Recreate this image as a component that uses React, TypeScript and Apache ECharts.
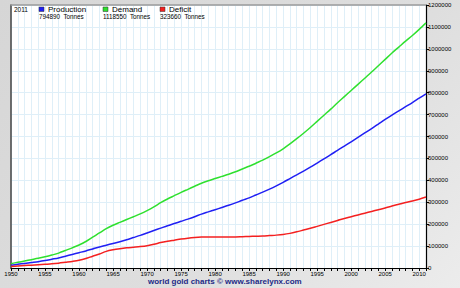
import React, { useEffect, useRef } from "react";
import * as echarts from "echarts";

const years: number[] = [];
for (let y = 1950; y <= 2011; y++) years.push(y);

const production = [
  13000, 17000, 21000, 25000, 29000, 34000, 40000, 46000, 54000, 62000,
  70000, 78000, 87000, 96000, 104000, 112000, 120000, 129000, 139000, 149000,
  160000, 171000, 182000, 193000, 203000, 213000, 223000, 234000, 246000, 256000,
  266000, 276000, 286000, 297000, 309000, 320000, 333000, 346000, 360000, 375000,
  391000, 408000, 425000, 442000, 460000, 479000, 498000, 517000, 537000, 556000,
  576000, 596000, 616000, 636000, 657000, 678000, 698000, 717000, 736000, 755000,
  775000, 794890,
];

const demand = [
  20000, 26000, 32000, 38000, 44000, 51000, 59000, 68000, 80000, 92000,
  105000, 121000, 141000, 160000, 180000, 195000, 208000, 221000, 234000, 247000,
  262000, 279000, 298000, 315000, 330000, 345000, 359000, 373000, 387000, 398000,
  408000, 418000, 428000, 439000, 452000, 464000, 478000, 492000, 508000, 525000,
  544000, 566000, 590000, 615000, 641000, 669000, 697000, 725000, 754000, 782000,
  810000, 838000, 866000, 894000, 923000, 952000, 981000, 1008000, 1035000, 1061000,
  1089000, 1118550,
];

const deficit = [
  7000, 9000, 11000, 13000, 15000, 17000, 19000, 22000, 26000, 30000,
  35000, 43000, 54000, 64000, 76000, 83000, 88000, 92000, 95000, 98000,
  102000, 108000, 116000, 122000, 127000, 132000, 136000, 139000, 141000, 142000,
  142000, 142000, 142000, 142000, 143000, 144000, 145000, 146000, 148000, 150000,
  153000, 158000, 165000, 173000, 181000, 190000, 199000, 208000, 217000, 226000,
  234000, 242000, 250000, 258000, 266000, 274000, 283000, 291000, 299000, 306000,
  314000, 323660,
];

const seriesNames = ["Production", "Demand", "Deficit"];
const seriesColors = ["#2020f4", "#2fe02f", "#f42020"];
const legendYear = "2011";
const unit = "Tonnes";
const credit = "world gold charts \u00a9 www.sharelynx.com";

const FONT = "'Liberation Sans', Arial, sans-serif";

export default function App() {
  const ref = useRef<HTMLDivElement>(null);
  useEffect(() => {
    if (!ref.current) return;
    const chart = echarts.init(ref.current, undefined, { renderer: "svg" });
    const all = [production, demand, deficit];
    const gridColor = "#dfeff8";
    const legendX = [39, 103, 160];
    const graphic: any[] = [
      {
        type: "text",
        left: 14,
        top: 5.5,
        z: 100,
        style: { text: legendYear, fontSize: 6.5, fontFamily: FONT, fill: "#000" },
      },
    ];
    seriesNames.forEach((n, i) => {
      const last = all[i][all[i].length - 1];
      graphic.push(
        {
          type: "rect",
          z: 100,
          shape: { x: legendX[i], y: 7, width: 5, height: 4.5 },
          style: { fill: seriesColors[i], stroke: "#333", lineWidth: 0.5 },
        },
        {
          type: "text",
          z: 100,
          left: legendX[i] + 9,
          top: 5,
          style: { text: n, fontSize: 8, fontFamily: FONT, fill: "#000" },
        },
        {
          type: "text",
          z: 100,
          left: legendX[i],
          top: 13,
          style: { text: `${last}  ${unit}`, fontSize: 6.3, fontFamily: FONT, fill: "#000" },
        }
      );
    });
    graphic.push({
      type: "text",
      z: 100,
      left: 148,
      top: 277,
      style: { text: credit, fontSize: 8, fontWeight: "bold", fontFamily: FONT, fill: "#1c2a86" },
    });

    chart.setOption({
      animation: false,
      grid: {
        left: 11,
        right: 34,
        top: 5,
        bottom: 20,
        show: true,
        backgroundColor: "#ffffff",
        borderWidth: 0,
      },
      xAxis: [
        {
          type: "value",
          min: 1950,
          max: 2011,
          interval: 5,
          axisLine: { show: true, onZero: false, lineStyle: { color: "#000", width: 1 } },
          axisTick: { show: true, length: 3, lineStyle: { color: "#000" } },
          minorTick: { show: true, splitNumber: 5, length: 3, lineStyle: { color: "#000" } },
          axisLabel: {
            fontSize: 6,
            color: "#000",
            margin: 3,
            fontFamily: FONT,
            formatter: (v: number) => String(v),
          },
          splitLine: { show: true, lineStyle: { color: gridColor, width: 1 } },
          minorSplitLine: { show: true, lineStyle: { color: gridColor, width: 1 } },
        },
        {
          type: "value",
          position: "top",
          min: 1950,
          max: 2011,
          axisLine: { show: true, onZero: false, lineStyle: { color: "#9a9a9a", width: 1.5 } },
          axisTick: { show: false },
          axisLabel: { show: false },
          splitLine: { show: false },
        },
      ],
      yAxis: [
        {
          type: "value",
          position: "right",
          min: 0,
          max: 1200000,
          interval: 100000,
          axisLine: { show: true, lineStyle: { color: "#000", width: 1.2 } },
          axisTick: { show: true, length: 3, lineStyle: { color: "#000" } },
          axisLabel: {
            fontSize: 6,
            color: "#000",
            margin: 2,
            fontFamily: FONT,
            formatter: (v: number) => String(v),
          },
          splitLine: { show: true, lineStyle: { color: gridColor, width: 1 } },
        },
        {
          type: "value",
          position: "left",
          min: 0,
          max: 1,
          axisLine: { show: true, lineStyle: { color: "#444", width: 1.5 } },
          axisTick: { show: false },
          axisLabel: { show: false },
          splitLine: { show: false },
        },
      ],
      series: seriesNames.map((n, i) => ({
        name: n,
        type: "line",
        xAxisIndex: 0,
        yAxisIndex: 0,
        data: years.map((y, k) => [y, all[i][k]]),
        showSymbol: false,
        smooth: 0.3,
        lineStyle: { color: seriesColors[i], width: 1.5 },
        itemStyle: { color: seriesColors[i] },
      })),
      graphic,
    });
    return () => chart.dispose();
  }, []);

  return (
    <div
      style={{
        position: "fixed",
        left: 0,
        top: 0,
        width: 460,
        height: 288,
        background: "linear-gradient(135deg, #d6d6d6 0%, #dedede 60%, #ececec 100%)",
      }}
    >
      <div ref={ref} style={{ width: 460, height: 288 }} />
    </div>
  );
}
